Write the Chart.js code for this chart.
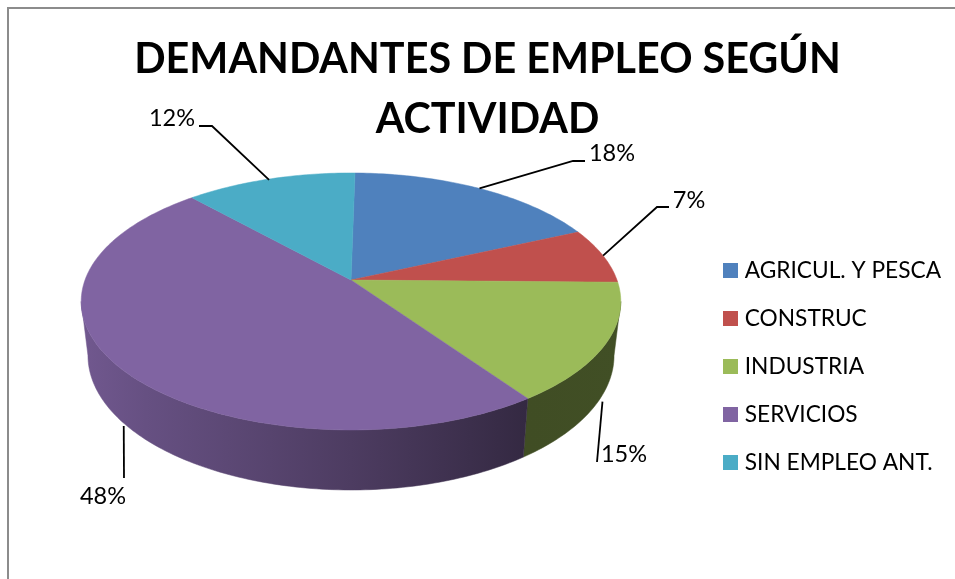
<!DOCTYPE html>
<html><head><meta charset="utf-8">
<script src="https://cdn.jsdelivr.net/npm/chart.js@4"></script>
<style>html,body{margin:0;padding:0;background:#fff;overflow:hidden}
#frame{position:absolute;left:7px;top:7px;width:948px;height:572px;border-left:2px solid #8c8c8c;border-top:2px solid #8c8c8c;box-sizing:border-box}
canvas{position:absolute;left:0;top:0}</style>
</head><body><div id="frame"></div><canvas id="c" width="955" height="579"></canvas>
<script>
const titleLines = ['DEMANDANTES DE EMPLEO SEGÚN', 'ACTIVIDAD'];
const categories = ['AGRICUL. Y PESCA', 'CONSTRUC', 'INDUSTRIA', 'SERVICIOS', 'SIN EMPLEO ANT.'];
const shares = [18, 7, 15, 48, 12];
const colors = ['#4F81BD', '#C0504D', '#9BBB59', '#8064A2', '#4BACC6'];

// Layout of the tilted disc: a perspective projection of the library's unit circle
const P = {cx: 351, cy: 280, ax: 266, by: 124.9, q: 0.167, shrink: 0.975, depth: 54, grow: 0.047, rimY: 301};
function rimPoint(a) {
  const x = Math.cos(a), y = Math.sin(a), w = 1 - P.q * y;
  return [P.cx + P.ax * x / w, P.cy + P.by * y / w];
}
function basePoint(a) {
  const [X, Y] = rimPoint(a);
  return [P.cx + (X - P.cx) * P.shrink, Y + P.depth + (Y - P.rimY) * P.grow];
}
// label layout: start nudge, bend/end of each leader, text position
const leaders = [
  {wall: false, nudge: [0, 0], bend: [573, 161], end: [585, 161], text: [612, 153]},
  {wall: false, nudge: [0, 0], bend: [657, 207], end: [669, 207], text: [689, 200]},
  {wall: true,  nudge: [3, 2], bend: [597, 462], end: [597, 462], text: [624, 454]},
  {wall: true,  nudge: [-1, 2], bend: [124, 478], end: [124, 478], text: [103, 496]},
  {wall: false, nudge: [-1, 1], bend: [212, 126], end: [199, 126], text: [172, 118]}
];
function shade(hex, f) {
  const n = parseInt(hex.slice(1), 16);
  return `rgb(${Math.round((n >> 16) * f)},${Math.round(((n >> 8) & 255) * f)},${Math.round((n & 255) * f)})`;
}
function swatch(color) {
  const c = document.createElement('canvas');
  c.width = 15; c.height = 15;
  const g = c.getContext('2d');
  g.fillStyle = color; g.fillRect(0, 0, 15, 15);
  return c;
}
const swatches = colors.map(swatch);
const STEP = Math.PI / 180;
const disc3d = {
  id: 'disc3d',
  beforeDatasetDraw(chart, args) {
    const ctx = chart.ctx, arcs = chart.getDatasetMeta(args.index).data;
    const limL = Math.asin(P.q), limR = Math.PI - Math.asin(P.q);
    // side wall
    arcs.forEach((arc, i) => {
      const s = Math.max(arc.startAngle, limL), e = Math.min(arc.endAngle, limR);
      if (e <= s) return;
      const g = ctx.createLinearGradient(81, 0, 621, 0);
      [[0, .88], [.12, .8], [.5, .6], [.826, .41], [1, .42]].forEach(([t, f]) => g.addColorStop(t, shade(colors[i], f)));
      ctx.beginPath();
      for (let a = s; a < e; a += STEP) ctx.lineTo(...rimPoint(a));
      ctx.lineTo(...rimPoint(e));
      for (let a = e; a > s; a -= STEP) ctx.lineTo(...basePoint(a));
      ctx.lineTo(...basePoint(s));
      ctx.closePath();
      ctx.fillStyle = g; ctx.strokeStyle = g; ctx.lineWidth = .5;
      ctx.fill(); ctx.stroke();
    });
    // top face
    arcs.forEach((arc, i) => {
      ctx.beginPath();
      ctx.moveTo(P.cx, P.cy);
      for (let a = arc.startAngle; a < arc.endAngle; a += STEP) ctx.lineTo(...rimPoint(a));
      ctx.lineTo(...rimPoint(arc.endAngle));
      ctx.closePath();
      ctx.fillStyle = colors[i]; ctx.strokeStyle = colors[i]; ctx.lineWidth = .5;
      ctx.fill(); ctx.stroke();
    });
    return false;
  },
  afterDraw(chart) {
    const ctx = chart.ctx, arcs = chart.getDatasetMeta(0).data;
    ctx.save();
    ctx.strokeStyle = '#000'; ctx.lineWidth = 1.8;
    ctx.fillStyle = '#000'; ctx.textAlign = 'center'; ctx.textBaseline = 'middle';
    ctx.font = '23.5px Lato';
    arcs.forEach((arc, i) => {
      const L = leaders[i], mid = (arc.startAngle + arc.endAngle) / 2;
      const p = L.wall ? basePoint(mid) : rimPoint(mid);
      ctx.beginPath(); ctx.moveTo(p[0] + L.nudge[0], p[1] + L.nudge[1]); ctx.lineTo(...L.bend); ctx.lineTo(...L.end); ctx.stroke();
      ctx.fillText(shares[i] + '%', ...L.text);
    });
    ctx.restore();
  }
};
new Chart(document.getElementById('c'), {
  type: 'pie',
  data: {labels: categories, datasets: [{data: shares, backgroundColor: colors, borderWidth: 0}]},
  plugins: [disc3d],
  options: {
    responsive: false, animation: false, rotation: 1,
    layout: {padding: {left: 24, right: 4, top: 30, bottom: 0}},
    plugins: {
      tooltip: {enabled: false},
      title: {display: true, text: titleLines, color: '#000', font: {family: 'Lato', size: 41.3, weight: 'bold', lineHeight: 1.45}, padding: {top: 0, bottom: 5}},
      legend: {
        position: 'right', fullSize: false,
        labels: {
          color: '#000', font: {family: 'Lato', size: 22.7}, usePointStyle: true, boxWidth: 5, padding: 25.3,
          generateLabels: c => Chart.overrides.pie.plugins.legend.labels.generateLabels(c).map((it, i) => ({...it, pointStyle: swatches[i]}))
        }
      }
    }
  }
});
</script></body></html>
